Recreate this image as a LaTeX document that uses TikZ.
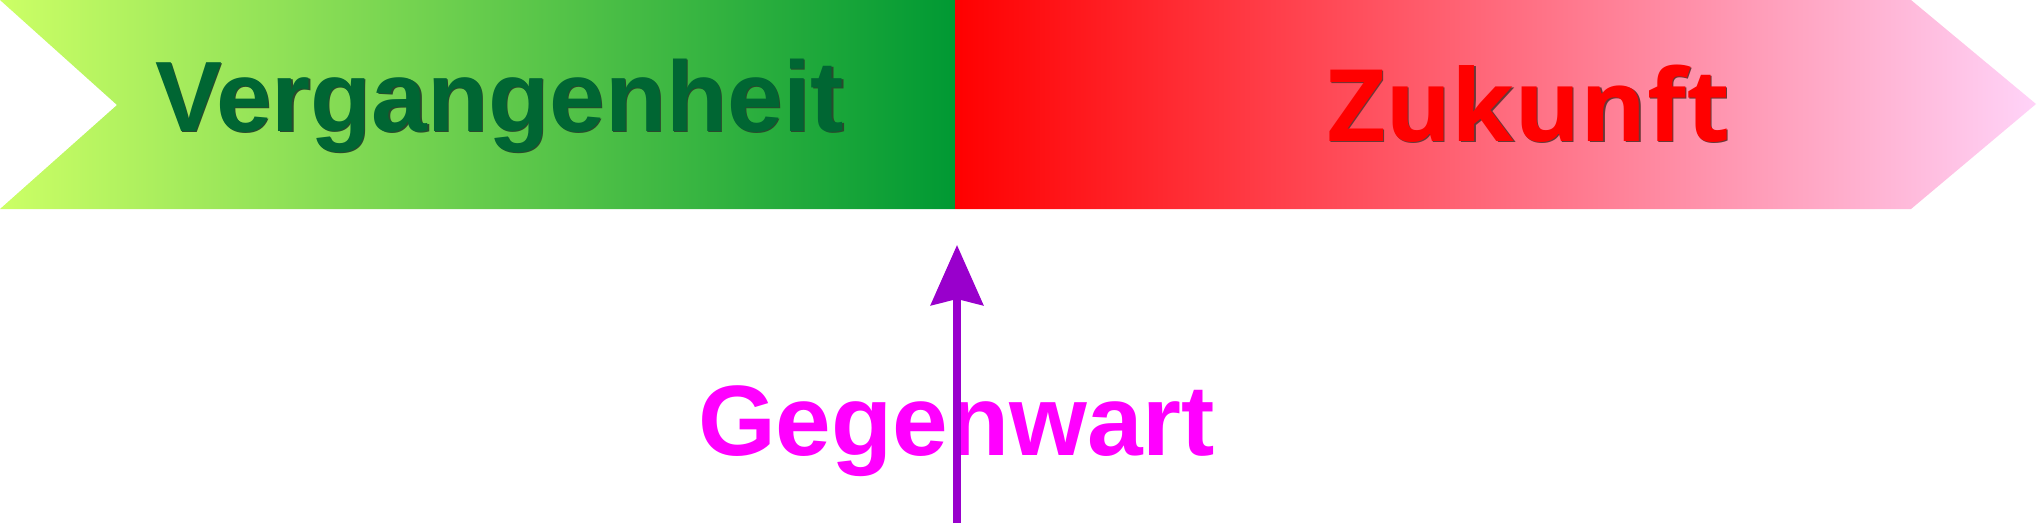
\documentclass[tikz,border=0pt]{standalone}
\usepackage{fontspec}
\setmainfont{Liberation Sans}
\newfontfamily\zfont{Open Sans}
\usetikzlibrary{arrows.meta}
\definecolor{pastL}{HTML}{CCFF66}
\definecolor{pastR}{HTML}{009933}
\definecolor{futL}{HTML}{FF0000}
\definecolor{futR}{HTML}{FFD3F8}
\definecolor{pasttext}{HTML}{006633}
\definecolor{pastshadow}{HTML}{2A4A2C}
\definecolor{futtext}{HTML}{FF0000}
\definecolor{futshadow}{HTML}{6A3838}
\definecolor{nowtext}{HTML}{FF00FF}
\definecolor{nowarrow}{HTML}{9900CC}
\newcommand\shadowed[2]{\rlap{\hspace{0.6pt}\raisebox{-0.6pt}{\textcolor{#1}{#2}}}#2}
\tikzset{
  label text/.style={anchor=base west, inner sep=0pt, outer sep=0pt},
  nowline/.style={draw=nowarrow, line width=4pt,
    -{Stealth[length=30pt,width=26pt,inset=3pt]}},
}
\begin{document}
\begin{tikzpicture}[x=0.5pt,y=-0.5pt]
\useasboundingbox (0,0) rectangle (2038,525);
% past band
\path[left color=pastL, right color=pastR]
  (0,0) -- (955,0) -- (955,209) -- (0,209) -- (117,105) -- cycle;
% future band
\path[left color=futL, right color=futR]
  (955,0) -- (1911,0) -- (2036,104) -- (1911,209) -- (955,209) -- cycle;
% texts
\node[label text, text=pasttext, font=\fontsize{50}{50}\selectfont\bfseries] (past) at (155,131) {\shadowed{pastshadow}{Vergangenheit}};
\node[label text, text=futtext, font=\zfont\fontsize{50}{50}\selectfont\bfseries] (future) at (1327,141) {\scalebox{1.01}[1]{\shadowed{futshadow}{Zukunft}}};
\node[label text, text=nowtext, font=\fontsize{50}{50}\selectfont\bfseries] (now) at (698,455) {Gegenwart};
% arrow
\coordinate (abot) at (957,523);
\coordinate (atop) at (957,245);
\draw[nowline] (abot) -- (atop);
\end{tikzpicture}
\end{document}
